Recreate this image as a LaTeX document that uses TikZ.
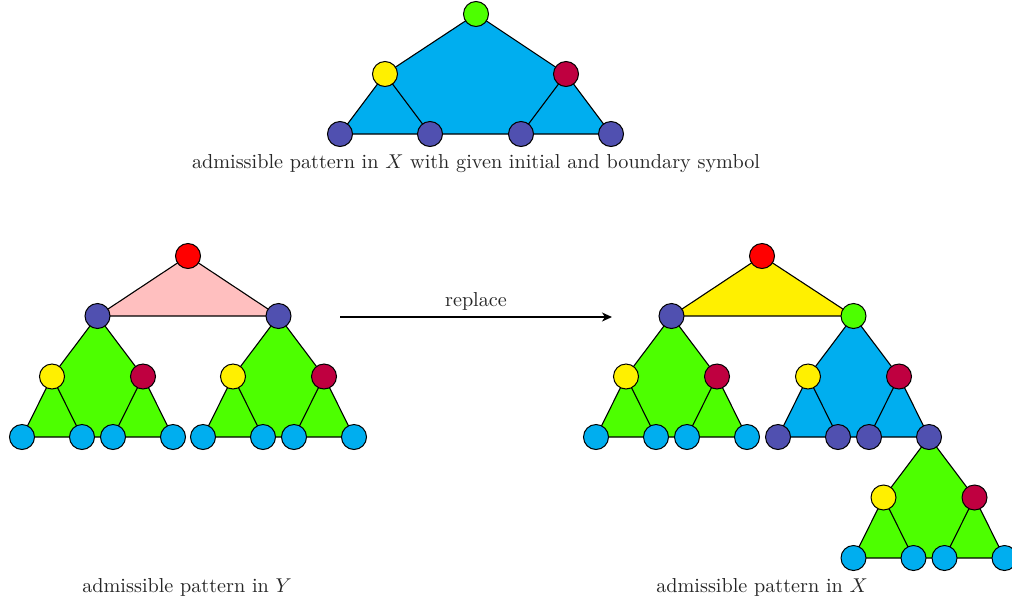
\documentclass[tikz,border=0pt]{standalone}
\usetikzlibrary{backgrounds,arrows.meta}
\definecolor{cyanF}{RGB}{0,174,239}
\definecolor{greenF}{RGB}{77,255,0}
\definecolor{yel}{RGB}{255,240,0}
\definecolor{crim}{RGB}{191,0,64}
\definecolor{purp}{RGB}{80,80,176}
\definecolor{pinkF}{RGB}{255,191,191}
\definecolor{redN}{RGB}{255,0,0}
\tikzset{
  dot/.style={circle,draw=black,line width=0.5pt,minimum size=12.5pt,inner sep=0pt},
  edge/.style={draw=black,line width=0.55pt},
  caption/.style={font=\fontsize{10.1}{12}\selectfont,text=black!85}
}
% #1 root name, #2 x, #3 y, #4 fill colour, #5 leaf colour
\newcommand{\mysub}[5]{%
  \node[dot,fill=yel]  (#1y) at (#2-45.5,#3+60.5) {};
  \node[dot,fill=crim] (#1c) at (#2+45.5,#3+60.5) {};
  \node[dot,fill=#5] (#1a) at (#2-75.5,#3+121) {};
  \node[dot,fill=#5] (#1b) at (#2-15.5,#3+121) {};
  \node[dot,fill=#5] (#1e) at (#2+15.5,#3+121) {};
  \node[dot,fill=#5] (#1d) at (#2+75.5,#3+121) {};
  \begin{pgfonlayer}{background}
    \fill[#4] (#1.center) -- (#1y.center) -- (#1a.center) -- (#1d.center) -- (#1c.center) -- cycle;
    \draw[edge] (#1.center) -- (#1y.center) -- (#1a.center) -- (#1d.center) -- (#1c.center) -- cycle;
    \draw[edge] (#1y.center) -- (#1b.center) (#1c.center) -- (#1e.center);
  \end{pgfonlayer}}
\begin{document}
\begin{tikzpicture}[x=0.5pt,y=-0.5pt]
\useasboundingbox (0,0) rectangle (1012,606);
% top tree
\node[dot,fill=greenF] (tr) at (476,14) {};
\node[dot,fill=yel]  (ty) at (385,74) {};
\node[dot,fill=crim] (tc) at (566,74) {};
\node[dot,fill=purp] (ta) at (340,134) {};
\node[dot,fill=purp] (tb) at (430,134) {};
\node[dot,fill=purp] (te) at (521,134) {};
\node[dot,fill=purp] (td) at (611,134) {};
\begin{pgfonlayer}{background}
  \fill[cyanF] (tr.center) -- (ty.center) -- (ta.center) -- (td.center) -- (tc.center) -- cycle;
  \draw[edge] (tr.center) -- (ty.center) -- (ta.center) -- (td.center) -- (tc.center) -- cycle;
  \draw[edge] (ty.center) -- (tb.center) (tc.center) -- (te.center);
\end{pgfonlayer}
\node[caption] (tcap) at (476,164) {admissible pattern in $X$ with given initial and boundary symbol};
% left tree
\node[dot,fill=redN] (lr) at (188,256) {};
\node[dot,fill=purp] (l1) at (97.5,316) {};
\node[dot,fill=purp] (l2) at (278.5,316) {};
\begin{pgfonlayer}{background}
  \fill[pinkF] (lr.center) -- (l1.center) -- (l2.center) -- cycle;
  \draw[edge] (lr.center) -- (l1.center) -- (l2.center) -- cycle;
\end{pgfonlayer}
\mysub{l1}{97.5}{316}{greenF}{cyanF}
\mysub{l2}{278.5}{316}{greenF}{cyanF}
\node[caption] (lcap) at (187,587) {admissible pattern in $Y$};
% arrow
\coordinate (as) at (340,317);
\coordinate (ae) at (612,317);
\draw[line width=0.75pt,-{Stealth[length=5pt,width=4.5pt,inset=1.5pt]}] (as) -- (ae);
\node[caption] (alab) at (476,301) {replace};
% right tree
\node[dot,fill=redN] (rr) at (762,256) {};
\node[dot,fill=purp] (r1) at (671.5,316) {};
\node[dot,fill=greenF] (r2) at (853.5,316) {};
\begin{pgfonlayer}{background}
  \fill[yel] (rr.center) -- (r1.center) -- (r2.center) -- cycle;
  \draw[edge] (rr.center) -- (r1.center) -- (r2.center) -- cycle;
\end{pgfonlayer}
\mysub{r1}{671.5}{316}{greenF}{cyanF}
\mysub{r2}{853.5}{316}{cyanF}{purp}
\mysub{r2d}{929}{437}{greenF}{cyanF}
\node[caption] (rcap) at (762,587) {admissible pattern in $X$};
\end{tikzpicture}
\end{document}
